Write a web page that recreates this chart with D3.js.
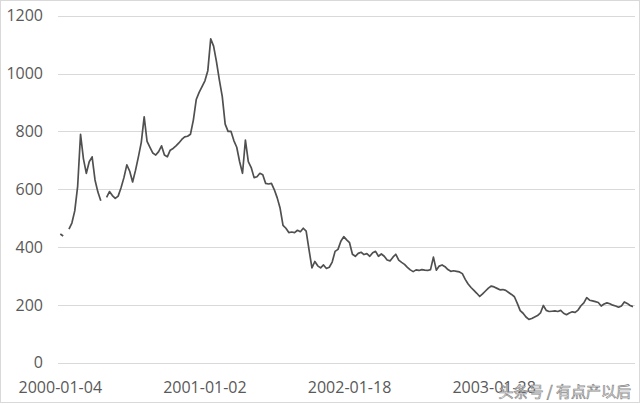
<!DOCTYPE html>
<html>
<head>
<meta charset="utf-8">
<script src="https://cdn.jsdelivr.net/npm/d3@7"></script>
<style>
  html, body { margin: 0; padding: 0; background: #fff; }
  svg { display: block; font-family: "Open Sans", "Liberation Sans", sans-serif; }
</style>
</head>
<body>
<div id="chart"></div>
<script>
// daily close, one value every few trading days (null = gap)
const closeValues = [
  445, 438, null, 462, 483, 525, 610, 790, 705, 655,
  695, 712, 632, 590, 560, null, 572, 592, 578, 568,
  576, 605, 640, 684, 662, 625, 665, 712, 762, 850,
  765, 745, 725, 718, 730, 750, 718, 712, 735, 741,
  750, 760, 772, 781, 783, 790, 839, 910, 935, 955,
  975, 1010, 1120, 1095, 1040, 977, 920, 825, 800, 800,
  768, 745, 695, 655, 770, 695, 675, 640, 643, 655,
  650, 620, 618, 620, 598, 570, 534, 475, 465, 450,
  452, 450, 458, 453, 465, 455, 390, 328, 350, 335,
  328, 338, 326, 330, 348, 385, 392, 420, 436, 425,
  415, 375, 368, 378, 382, 374, 377, 368, 380, 385,
  368, 376, 368, 355, 352, 365, 375, 355, 347, 340,
  330, 321, 315, 321, 319, 322, 320, 319, 322, 365,
  320, 334, 338, 332, 322, 316, 318, 316, 314, 308,
  288, 272, 260, 250, 240, 229, 238, 248, 258, 265,
  262, 257, 252, 253, 250, 243, 236, 228, 205, 180,
  171, 158, 150, 153, 158, 163, 172, 198, 181, 177,
  178, 179, 177, 181, 171, 166, 172, 176, 174, 182,
  197, 207, 225, 216, 214, 211, 208, 196, 203, 207,
  204, 199, 196, 192, 196, 210, 205, 198, 194
];

const tickIndex = [0, 50, 100, 150];
const tickLabels = ["2000-01-04", "2001-01-02", "2002-01-18", "2003-01-28"];
const yTicks = [0, 200, 400, 600, 800, 1000, 1200];

const width = 640;
const height = 404;

const svg = d3.select("#chart")
  .append("svg")
  .attr("width", width)
  .attr("height", height);

// chart area border
svg.append("rect")
  .attr("x", 0.5).attr("y", 0.5)
  .attr("width", width - 1).attr("height", height - 2)
  .attr("fill", "#fff")
  .attr("stroke", "#d9d9d9");

const x = d3.scaleLinear()
  .domain([0, closeValues.length - 1])
  .range([60.3, 633]);

const y = d3.scaleLinear()
  .domain([0, 1200])
  .range([362.7, 15.7]);

// horizontal gridlines
svg.append("g")
  .selectAll("line")
  .data(yTicks)
  .join("line")
  .attr("x1", 58)
  .attr("x2", 635)
  .attr("y1", (d) => Math.round(y(d)) + 0.5)
  .attr("y2", (d) => Math.round(y(d)) + 0.5)
  .attr("stroke", "#d9d9d9")
  .attr("stroke-width", 1);

// y labels
svg.append("g")
  .selectAll("text")
  .data(yTicks)
  .join("text")
  .attr("x", 43)
  .attr("y", (d) => y(d))
  .attr("dy", "0.36em")
  .attr("text-anchor", "end")
  .attr("fill", "#595959")
  .style("font-size", "16px")
  .text((d) => d);

// x labels
svg.append("g")
  .selectAll("text")
  .data(tickIndex)
  .join("text")
  .attr("x", (d) => x(d))
  .attr("y", 392.5)
  .attr("text-anchor", "middle")
  .attr("fill", "#595959")
  .style("font-size", "16px")
  .text((d, i) => tickLabels[i]);

const line = d3.line()
  .defined((d) => d !== null)
  .x((d, i) => x(i))
  .y((d) => y(d));

svg.append("path")
  .datum(closeValues)
  .attr("fill", "none")
  .attr("stroke", "#505050")
  .attr("stroke-width", 1.7)
  .attr("stroke-linejoin", "round")
  .attr("d", line);

// watermark (sits over the last date label, as in the original)
svg.append("text")
  .attr("x", 631)
  .attr("y", 397)
  .attr("text-anchor", "end")
  .style("font-family", "'Noto Sans CJK SC', sans-serif")
  .style("font-size", "15px")
  .attr("fill", "#fff")
  .attr("fill-opacity", 0.75)
  .attr("stroke", "#8a8a8a")
  .attr("stroke-width", 0.7)
  .text("头条号 / 有点产以后");
</script>
</body>
</html>
